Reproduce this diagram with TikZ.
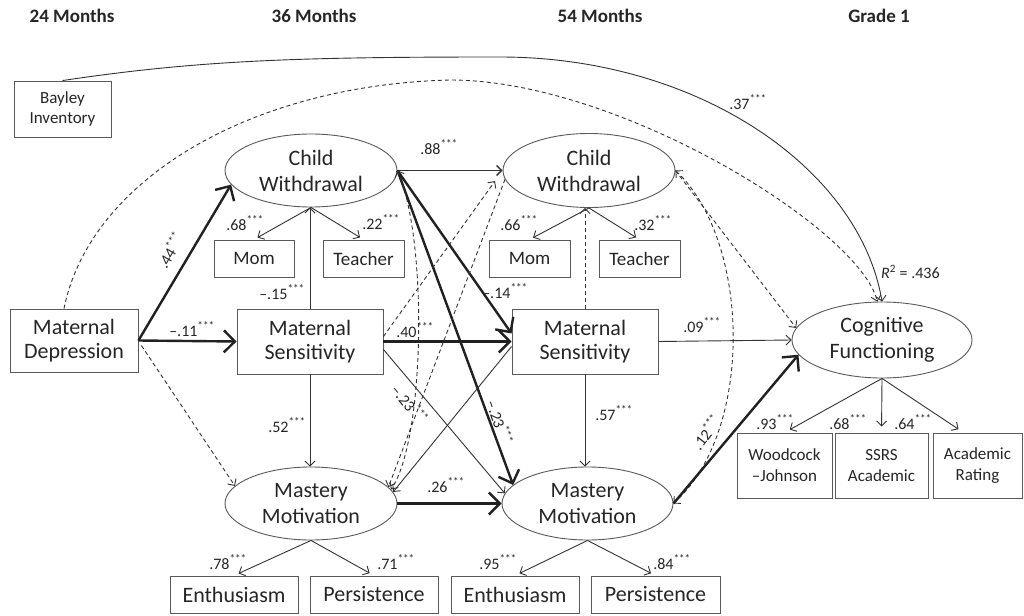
\documentclass[tikz,border=0pt]{standalone}
\usepackage{fontspec}
\setmainfont{Carlito}
\usetikzlibrary{arrows.meta,shapes.geometric,calc}
\definecolor{ink}{HTML}{262626}
\definecolor{edgec}{HTML}{333333}
\definecolor{framec}{HTML}{5A5A5A}
\newcommand{\sg}[1]{#1\textsuperscript{***}}
\begin{document}
\begin{tikzpicture}[x=1pt,y=-1pt,
  every node/.style={text=ink, inner sep=0pt, align=center},
  box/.style={draw=framec, line width=0.9pt, rectangle, font=\fontsize{22}{24.5}\selectfont},
  ind/.style={draw=framec, line width=0.9pt, rectangle, font=\fontsize{19}{22}\selectfont},
  ell/.style={draw=framec, line width=0.9pt, ellipse, font=\fontsize{22}{26}\selectfont},
  hdr/.style={font=\fontsize{19}{22}\selectfont\bfseries},
  lab/.style={font=\fontsize{16}{18}\selectfont},
  arrA/.style={draw=edgec, line width=0.9pt, -{Straight Barb[length=5pt,width=10pt]}},
  arrM/.style={draw=edgec, line width=1.4pt, -{Straight Barb[length=5pt,width=10pt]}},
  arrT/.style={draw=edgec!65!black, line width=2.4pt, -{Straight Barb[length=11pt,width=22pt]}},
  dsh/.style={draw=edgec, line width=0.9pt, dash pattern=on 4pt off 3pt, -{Straight Barb[length=5pt,width=10pt]}},
  dshB/.style={draw=edgec, line width=0.9pt, dash pattern=on 4pt off 3pt, {Straight Barb[length=5pt,width=10pt]}-{Straight Barb[length=5pt,width=10pt]}},
]
\useasboundingbox[fill=white] (0,0) rectangle (1024,615);

% headers
\node[hdr] (h24) at (72,16) {24 Months};
\node[hdr] (h36) at (314,16) {36 Months};
\node[hdr] (h54) at (600,16) {54 Months};
\node[hdr] (hg1) at (879,16) {Grade 1};

% main nodes
\node[box, minimum width=97pt, minimum height=56pt, font=\fontsize{17}{20}\selectfont] (bay) at (62.5,109) {Bayley\\Inventory};
\node[box, minimum width=128pt, minimum height=63pt] (md) at (74,340.5) {Maternal\\Depression};
\node[box, minimum width=146pt, minimum height=65pt] (ms1) at (310,341.5) {Maternal\\Sensitivity};
\node[box, minimum width=146pt, minimum height=65pt] (ms2) at (585,341.5) {Maternal\\Sensitivity};
\node[ell, minimum width=172pt, minimum height=73pt] (cw1) at (311,170.5) {Child\\Withdrawal};
\node[ell, minimum width=172pt, minimum height=74pt] (cw2) at (589,170.5) {Child\\Withdrawal};
\node[ell, minimum width=172pt, minimum height=73pt] (mm1) at (311,503.5) {Mastery\\Motivation};
\node[ell, minimum width=171pt, minimum height=73pt] (mm2) at (587.5,503.5) {Mastery\\Motivation};
\node[ell, minimum width=180pt, minimum height=76pt] (cf) at (882,340) {Cognitive\\Functioning};

% indicators
\node[ind, minimum width=80pt, minimum height=37pt] (mom1) at (254,258.5) {Mom};
\node[ind, minimum width=81pt, minimum height=37pt] (teach1) at (363.5,258.5) {Teacher};
\node[ind, minimum width=81pt, minimum height=37pt] (mom2) at (529.5,258.5) {Mom};
\node[ind, minimum width=81pt, minimum height=37pt] (teach2) at (639.5,258.5) {Teacher};
\node[ind, font=\fontsize{17}{21}\selectfont, minimum width=95pt, minimum height=65pt] (wj) at (784.5,465.5) {Woodcock\\–Johnson};
\node[ind, font=\fontsize{17}{21}\selectfont, minimum width=93pt, minimum height=65pt] (ssrs) at (881.5,465.5) {SSRS\\Academic};
\node[ind, font=\fontsize{17}{21}\selectfont, minimum width=89pt, minimum height=65pt] (ar) at (977.5,465.5) {Academic\\Rating};
\node[box, minimum width=128pt, minimum height=37pt] (en1) at (234,594.5) {Enthusiasm};
\node[box, minimum width=128pt, minimum height=37pt] (per1) at (374,594.5) {Persistence};
\node[box, minimum width=128pt, minimum height=37pt] (en2) at (515,594.5) {Enthusiasm};
\node[box, minimum width=129pt, minimum height=37pt] (per2) at (655.5,594.5) {Persistence};

% long curves
\draw[arrA] (bay.north) .. controls (200,60) and (300,57) .. (500,57) .. controls (700,57) and (860,170) .. (cf.north);
\draw[dsh] ([xshift=-10pt]md.north) .. controls (90,180) and (250,85) .. (450,80) .. controls (620,80) and (860,230) .. (cf.97);

% structural paths
\draw[arrT] (md.east) -- (cw1.190);
\draw[arrT] (md.east) -- (ms1.west);
\draw[dsh] ([shift={(3pt,-5pt)}]md.east) -- (mm1.167);
\draw[arrA] (ms1.north) -- (ms1.north |- cw1.south);
\draw[arrM] (cw1.east) -- (cw2.west);
\draw[arrT] (cw1.east) -- ([yshift=8pt]ms2.west);
\draw[arrT] (cw1.east) -- (mm2.166);
\draw[arrT] (ms1.east) -- (ms2.west);
\draw[arrA] ([yshift=-8pt]ms1.east) -- (mm2.173);
\draw[arrA] ([yshift=-5pt]ms2.west) -- (mm1.8);
\draw[arrT] (mm1.east) -- (mm2.west);
\draw[arrA] (ms1.south) -- (ms1.south |- mm1.north);
\draw[arrA] (ms2.south) -- (ms2.south |- mm2.north);
\draw[dsh] (ms2.north) -- (ms2.north |- cw2.south);
\draw[dsh, shorten >=13pt] ([yshift=5pt]ms1.east) -- (cw2.west);
\draw[dsh] (cw2.186) -- (mm1.12);
\draw[dshB] (cw1.east) .. controls (428,240) and (425,440) .. (mm1.10);
\draw[dshB] (cw2.east) .. controls (750,240) and (755,430) .. (mm2.east);
\draw[dsh] (cw2.east) -- (cf.172);
\draw[arrA] (ms2.east) -- (cf.west);
\draw[arrT] (mm2.east) -- (cf.190);

% measurement paths
\draw[arrA, shorten >=4pt] (cw1.south) -- (mom1.north);
\draw[arrA, shorten >=4pt] (cw1.south) -- (teach1.north);
\draw[arrA, shorten >=4pt] (cw2.south) -- (mom2.north);
\draw[arrA, shorten >=4pt] (cw2.south) -- (teach2.north);
\draw[arrA, shorten >=5pt] (mm1.south) -- (en1.north);
\draw[arrA, shorten >=5pt] (mm1.south) -- (per1.north);
\draw[arrA, shorten >=5pt] (mm2.south) -- (en2.north);
\draw[arrA, shorten >=5pt] (mm2.south) -- (per2.north);
\draw[arrA, shorten >=6pt] (cf.south) -- (wj.north);
\draw[arrA, shorten >=6pt] (cf.south) -- (ssrs.north);
\draw[arrA, shorten >=6pt] (cf.south) -- ([xshift=-14pt]ar.north);

% labels
\node[lab] (l1) at (245,223) {\sg{.68}};
\node[lab] (l2) at (381,222) {\sg{.22}};
\node[lab] (l3) at (519,223) {\sg{.66}};
\node[lab] (l4) at (653,223) {\sg{.32}};
\node[lab] (l5) at (282,292) {\sg{–.15}};
\node[lab, rotate=59.5] (l6) at (170,250) {\sg{.44}};
\node[lab] (l7) at (192,329) {\sg{–.11}};
\node[lab] (l8) at (439,147) {\sg{.88}};
\node[lab] (l9) at (505,291) {\sg{–.14}};
\node[lab] (l10) at (415,330) {\sg{.40}};
\node[lab, rotate=-51] (l11) at (410,404) {\sg{–.23}};
\node[lab, rotate=-71] (l12) at (500,422) {\sg{–.23}};
\node[lab] (l13) at (287,425) {\sg{.52}};
\node[lab] (l14) at (614,413) {\sg{.57}};
\node[lab] (l15) at (446,485) {\sg{.26}};
\node[lab] (l16) at (702,325) {\sg{.09}};
\node[lab, rotate=52] (l17) at (706,432) {\sg{.12}};
\node[lab] (l18) at (748,102) {\sg{.37}};
\node[lab] (l19) at (775,422) {\sg{.93}};
\node[lab] (l20) at (848,422) {\sg{.68}};
\node[lab] (l21) at (913,422) {\sg{.64}};
\node[lab] (l22) at (228,562) {\sg{.78}};
\node[lab] (l23) at (396,562) {\sg{.71}};
\node[lab] (l24) at (498,562) {\sg{.95}};
\node[lab] (l25) at (672,562) {\sg{.84}};
\node[lab, anchor=west] (l26) at (881,272) {\textit{R}\textsuperscript{2} = .436};
\end{tikzpicture}
\end{document}
